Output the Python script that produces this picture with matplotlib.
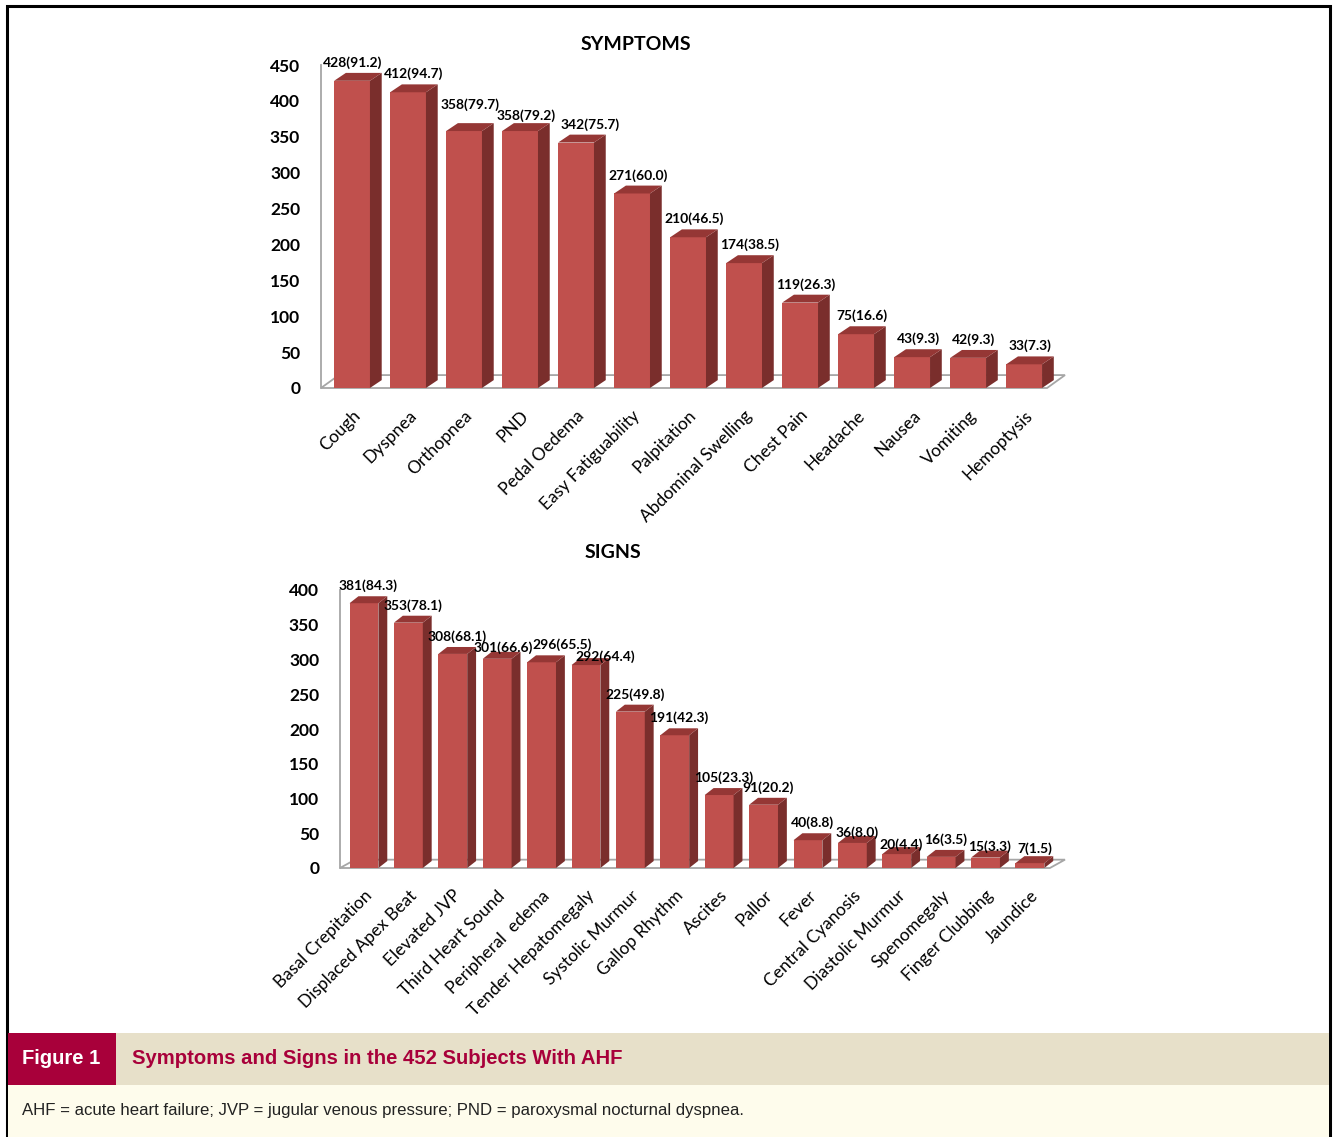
#bar charts of symptoms and signs in AHF subjects, 3D excel style
import numpy as np
import matplotlib.pyplot as plt
import matplotlib.transforms as mtransforms
from matplotlib.patches import Polygon, Rectangle

W, H = 1333, 1137

symptoms = ['Cough', 'Dyspnea', 'Orthopnea', 'PND', 'Pedal Oedema', 'Easy Fatiguability',
            'Palpitation', 'Abdominal Swelling', 'Chest Pain', 'Headache', 'Nausea',
            'Vomiting', 'Hemoptysis']
symptom_n = [428, 412, 358, 358, 342, 271, 210, 174, 119, 75, 43, 42, 33]
symptom_pct = [91.2, 94.7, 79.7, 79.2, 75.7, 60.0, 46.5, 38.5, 26.3, 16.6, 9.3, 9.3, 7.3]

signs = ['Basal Crepitation', 'Displaced Apex Beat', 'Elevated JVP', 'Third Heart Sound',
         'Peripheral  edema', 'Tender Hepatomegaly', 'Systolic Murmur', 'Gallop Rhythm',
         'Ascites', 'Pallor', 'Fever', 'Central Cyanosis', 'Diastolic Murmur',
         'Spenomegaly', 'Finger Clubbing', 'Jaundice']
sign_n = [381, 353, 308, 301, 296, 292, 225, 191, 105, 91, 40, 36, 20, 16, 15, 7]
sign_pct = [84.3, 78.1, 68.1, 66.6, 65.5, 64.4, 49.8, 42.3, 23.3, 20.2, 8.8, 8.0, 4.4, 3.5, 3.3, 1.5]

symptom_ticks = [0, 50, 100, 150, 200, 250, 300, 350, 400, 450]
sign_ticks = [0, 50, 100, 150, 200, 250, 300, 350, 400]

FRONT = '#c0504d'
SIDE = '#7a2e2c'
TOP = '#953735'
GRID = '#a6a6a6'
FONT = ['Lato', 'DejaVu Sans']
CAP_FONT = ['Liberation Sans', 'DejaVu Sans']

plt.rcParams['font.family'] = FONT


def px_axes(fig, left, right, bottom, top):
    #axes placed by pixel edges of the figure
    return fig.add_axes([left / W, 1 - bottom / H, (right - left) / W, (bottom - top) / H])


def draw_3d_bars(ax, names, counts, pct, ticks, width, ddx, ddy, fdx, fdy, xlim, nudge=None):
    x = np.arange(len(counts))
    x0, x1 = xlim
    ax.set_xlim(x0, x1 + fdx)
    ax.set_ylim(0, ticks[-1])
    #floor and back wall line
    ax.add_patch(Polygon([(x0, 0), (x1, 0), (x1 + fdx, fdy), (x0 + fdx, fdy)], closed=True,
                         fc='white', ec=GRID, lw=1.3, zorder=1, clip_on=False))
    ax.plot([x0, x0], [0, ticks[-1]], color=GRID, lw=1.3, zorder=1, clip_on=False)
    ax.bar(x, counts, width, color=FRONT, zorder=3, clip_on=False)
    for xi, v, p in zip(x, counts, pct):
        r = xi + width / 2
        l = xi - width / 2
        ax.add_patch(Polygon([(r, 0), (r + ddx, ddy), (r + ddx, v + ddy), (r, v)], closed=True,
                             fc=SIDE, ec='none', zorder=3, clip_on=False))
        ax.add_patch(Polygon([(l, v), (r, v), (r + ddx, v + ddy), (l + ddx, v + ddy)], closed=True,
                             fc=TOP, ec='none', zorder=3, clip_on=False))
        #label offset in pixels (right, down) where the original labels were moved by hand
        mx, my = (nudge or {}).get(xi, (0, 0))
        ax.annotate('{}({:.1f})'.format(v, p), (xi + ddx / 2, v + ddy), xytext=(mx, 4 - my),
                    textcoords='offset pixels', ha='center', va='bottom', fontsize=10,
                    fontweight='bold', color='black', zorder=5, annotation_clip=False)
    ax.set_xticks(x)
    ax.set_xticklabels(names, rotation=45, ha='right', rotation_mode='anchor', fontsize=12.5)
    shift = mtransforms.ScaledTranslation(-6 / 100, 0, ax.figure.dpi_scale_trans)
    for lab in ax.get_xticklabels():
        lab.set_transform(lab.get_transform() + shift)
    ax.set_yticks(ticks)
    ax.set_yticklabels([str(t) for t in ticks], fontsize=12.5, fontweight='bold')
    ax.tick_params(axis='x', length=0, pad=14, colors='black')
    ax.tick_params(axis='y', length=0, pad=15, colors='black')
    for s in ax.spines.values():
        s.set_visible(False)
    ax.patch.set_alpha(0)


fig = plt.figure(figsize=(W / 100, H / 100), dpi=100)

#outer frame
fig.add_artist(Rectangle((7 / W, 0), (1330 - 7) / W, 1 - 6 / H, transform=fig.transFigure,
                         fill=False, ec='black', lw=2.2, zorder=0))

ax1 = px_axes(fig, 321, 1065, 388, 65)
draw_3d_bars(ax1, symptoms, symptom_n, symptom_pct, symptom_ticks, 0.64, 0.21, 11, 0.32, 18,
             (-0.554, 12.41), nudge={0: (-5, 0), 2: (0, -8), 3: (0, 3), 4: (8, 0)})
fig.text(636 / W, 1 - 45 / H, 'SYMPTOMS', ha='center', va='center', fontsize=14, fontweight='bold')

ax2 = px_axes(fig, 340, 1065, 868, 590)
draw_3d_bars(ax2, signs, sign_n, sign_pct, sign_ticks, 0.65, 0.2, 10, 0.34, 12,
             (-0.54, 15.45),
             nudge={3: (2, 6), 4: (16, 0), 5: (15, 9), 11: (0, 7), 12: (0, 8), 14: (0, 6), 15: (0, 3)})
fig.text(613 / W, 1 - 553 / H, 'SIGNS', ha='center', va='center', fontsize=14, fontweight='bold')

#caption bands
fig.add_artist(Rectangle((8 / W, 1 - 1085 / H), (1329 - 8) / W, 52 / H, transform=fig.transFigure,
                         fc='#e7e0c9', ec='none', zorder=1))
fig.add_artist(Rectangle((8 / W, 0), (1329 - 8) / W, 1 - 1085 / H, transform=fig.transFigure,
                         fc='#fefcec', ec='none', zorder=1))
fig.add_artist(Rectangle((8 / W, 1 - 1085 / H), (116 - 8) / W, 52 / H, transform=fig.transFigure,
                         fc='#a8003a', ec='none', zorder=2))
fig.text(61 / W, 1 - 1059 / H, 'Figure 1', ha='center', va='center', color='white', fontsize=14.5,
         fontweight='bold', family=CAP_FONT, zorder=3)
fig.text(132 / W, 1 - 1059 / H, 'Symptoms and Signs in the 452 Subjects With AHF', ha='left',
         va='center', color='#a8003a', fontsize=14.6, fontweight='bold', family=CAP_FONT, zorder=3)
fig.text(22 / W, 1 - 1111 / H,
         'AHF = acute heart failure; JVP = jugular venous pressure; PND = paroxysmal nocturnal dyspnea.',
         ha='left', va='center', color='#222222', fontsize=12.1, family=CAP_FONT, zorder=3)

fig.savefig('out.png', dpi=100)
